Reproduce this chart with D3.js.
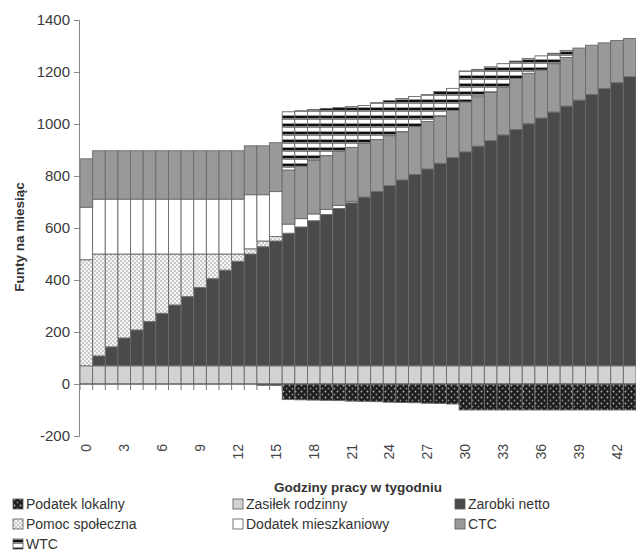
<!DOCTYPE html>
<html>
<head>
<meta charset="utf-8">
<script src="https://cdn.jsdelivr.net/npm/d3@7"></script>
<style>
  body { margin: 0; background: #fff; }
  svg { display: block; font-family: 'Liberation Sans', Arial, sans-serif; }
</style>
</head>
<body>
<svg id="chart"></svg>
<script>
// godziny pracy w tygodniu
const hours = [0, 1, 2, 3, 4, 5, 6, 7, 8, 9, 10, 11, 12, 13, 14, 15, 16, 17, 18, 19, 20, 21,
  22, 23, 24, 25, 26, 27, 28, 29, 30, 31, 32, 33, 34, 35, 36, 37, 38, 39, 40, 41, 42, 43];
const hourTicks = [0, 3, 6, 9, 12, 15, 18, 21, 24, 27, 30, 33, 36, 39, 42];
const yTicks = [-200, 0, 200, 400, 600, 800, 1000, 1200, 1400];

// funty na miesiac, one value per hour
const podatekLokalny = [0, 0, 0, 0, 0, 0, 0, 0, 0, 0, 0, 0, 0, 0, -5, -6, -60, -61, -62, -63, -64, -66,
  -67, -68, -70, -71, -72, -74, -75, -77, -100, -100, -100, -100, -100, -100, -100, -100, -100, -100, -100, -100, -100, -100];
const zasilekRodzinny = [70, 70, 70, 70, 70, 70, 70, 70, 70, 70, 70, 70, 70, 70, 70, 70, 70, 70, 70, 70, 70, 70,
  70, 70, 70, 70, 70, 70, 70, 70, 70, 70, 70, 70, 70, 70, 70, 70, 70, 70, 70, 70, 70, 70];
const zarobkiNetto = [0, 38, 73, 107, 138, 170, 202, 234, 266, 301, 335, 368, 402, 430, 458, 480, 510, 534, 558, 582, 605, 627,
  649, 671, 693, 715, 736, 757, 779, 801, 823, 845, 866, 888, 909, 931, 953, 976, 999, 1022, 1044, 1067, 1089, 1112];
const pomocSpoleczna = [408, 392, 357, 323, 292, 260, 228, 196, 164, 129, 95, 62, 28, 20, 22, 17, 0, 0, 0, 0, 0, 0,
  0, 0, 0, 0, 0, 0, 0, 0, 0, 0, 0, 0, 0, 0, 0, 0, 0, 0, 0, 0, 0, 0];
const dodatekMieszkaniowy = [202, 211, 211, 211, 211, 211, 211, 211, 211, 211, 211, 211, 211, 208, 178, 173, 35, 32, 26, 19, 12, 6,
  0, 0, 0, 0, 0, 0, 0, 0, 0, 0, 0, 0, 0, 0, 0, 0, 0, 0, 0, 0, 0, 0];
const ctc = [186, 186, 186, 186, 186, 186, 186, 186, 186, 186, 186, 186, 186, 188, 188, 188, 208, 202, 206, 207, 208, 207,
  206, 199, 192, 185, 184, 183, 181, 181, 192, 190, 186, 184, 196, 194, 185, 186, 187, 200, 189, 175, 162, 147];
const wtc = [0, 0, 0, 0, 0, 0, 0, 0, 0, 0, 0, 0, 0, 0, 0, 0, 224, 213, 196, 182, 168, 157,
  146, 142, 135, 128, 116, 103, 95, 85, 119, 105, 98, 90, 67, 57, 54, 40, 27, 0, 0, 0, 0, 0];

const seriesKeys = ['podatek', 'zasilek', 'zarobki', 'pomoc', 'dodatek', 'ctc', 'wtc'];
const seriesNames = {
  podatek: 'Podatek lokalny',
  zasilek: 'Zasiłek rodzinny',
  zarobki: 'Zarobki netto',
  pomoc: 'Pomoc społeczna',
  dodatek: 'Dodatek mieszkaniowy',
  ctc: 'CTC',
  wtc: 'WTC'
};

const rows = hours.map((h, i) => ({
  hour: h,
  podatek: podatekLokalny[i],
  zasilek: zasilekRodzinny[i],
  zarobki: zarobkiNetto[i],
  pomoc: pomocSpoleczna[i],
  dodatek: dodatekMieszkaniowy[i],
  ctc: ctc[i],
  wtc: wtc[i]
}));

const width = 636;
const height = 556;
const plot = { left: 80, right: 636, top: 20, bottom: 436 };

const svg = d3.select('#chart')
  .attr('width', width)
  .attr('height', height);

// patterns for the textured series
const defs = svg.append('defs');

const pPomoc = defs.append('pattern')
  .attr('id', 'pat-pomoc')
  .attr('patternUnits', 'userSpaceOnUse')
  .attr('width', 4)
  .attr('height', 4);
pPomoc.append('rect').attr('width', 4).attr('height', 4).attr('fill', '#f6f6f6');
pPomoc.append('circle').attr('cx', 1).attr('cy', 1).attr('r', 0.7).attr('fill', '#7a7a7a');
pPomoc.append('circle').attr('cx', 3).attr('cy', 3).attr('r', 0.7).attr('fill', '#7a7a7a');

const pPodatek = defs.append('pattern')
  .attr('id', 'pat-podatek')
  .attr('patternUnits', 'userSpaceOnUse')
  .attr('width', 6)
  .attr('height', 6);
pPodatek.append('rect').attr('width', 6).attr('height', 6).attr('fill', '#1e1e1e');
pPodatek.append('circle').attr('cx', 1.5).attr('cy', 1.5).attr('r', 0.9).attr('fill', '#b5b5b5');
pPodatek.append('circle').attr('cx', 4.5).attr('cy', 4.5).attr('r', 0.9).attr('fill', '#8a8a8a');

const pWtc = defs.append('pattern')
  .attr('id', 'pat-wtc')
  .attr('patternUnits', 'userSpaceOnUse')
  .attr('width', 4)
  .attr('height', 8);
pWtc.append('rect').attr('width', 4).attr('height', 8).attr('fill', '#fff');
pWtc.append('rect').attr('y', 3).attr('width', 4).attr('height', 1).attr('fill', '#999');
pWtc.append('rect').attr('y', 4).attr('width', 4).attr('height', 2.5).attr('fill', '#111');
pWtc.append('rect').attr('y', 6.5).attr('width', 4).attr('height', 1.5).attr('fill', '#888');

const fills = {
  podatek: 'url(#pat-podatek)',
  zasilek: '#d2d2d2',
  zarobki: '#4a4a4a',
  pomoc: 'url(#pat-pomoc)',
  dodatek: '#ffffff',
  ctc: '#999999',
  wtc: 'url(#pat-wtc)'
};

const xScale = d3.scaleBand()
  .domain(hours)
  .range([plot.left, plot.right])
  .padding(0);

const yScale = d3.scaleLinear()
  .domain([-200, 1400])
  .range([plot.bottom, plot.top]);

const stacked = d3.stack()
  .keys(seriesKeys)
  .offset(d3.stackOffsetDiverging)(rows);

// bars
svg.append('g')
  .selectAll('g')
  .data(stacked)
  .enter().append('g')
  .attr('fill', d => fills[d.key])
  .selectAll('rect')
  .data(d => d.filter(s => s[1] !== s[0]))
  .enter().append('rect')
  .attr('x', d => xScale(d.data.hour))
  .attr('y', d => yScale(d[1]))
  .attr('width', xScale.bandwidth())
  .attr('height', d => yScale(d[0]) - yScale(d[1]))
  .attr('stroke', '#6a6a6a')
  .attr('stroke-width', 0.9);

// zero line with category ticks
svg.append('line')
  .attr('x1', plot.left)
  .attr('x2', plot.right)
  .attr('y1', yScale(0))
  .attr('y2', yScale(0))
  .attr('stroke', '#555')
  .attr('stroke-width', 1);

svg.append('g')
  .selectAll('line')
  .data(hours)
  .enter().append('line')
  .attr('x1', d => xScale(d))
  .attr('x2', d => xScale(d))
  .attr('y1', yScale(0))
  .attr('y2', yScale(0) + 6)
  .attr('stroke', '#777');

// y axis
const yAxis = d3.axisLeft(yScale)
  .tickValues(yTicks)
  .tickFormat(d => String(d))
  .tickSize(5)
  .tickPadding(4);

const yAxisG = svg.append('g')
  .attr('transform', `translate(${plot.left - 1},0)`)
  .call(yAxis);
yAxisG.select('.domain').attr('stroke', '#888');
yAxisG.selectAll('.tick line').attr('stroke', '#888');
yAxisG.selectAll('.tick text')
  .attr('font-size', 15)
  .attr('font-family', "'Liberation Sans', Arial, sans-serif")
  .attr('fill', '#3a3a3a');

// x labels, rotated
svg.append('g')
  .selectAll('text')
  .data(hourTicks)
  .enter().append('text')
  .attr('transform', d => `translate(${xScale(d) + xScale.bandwidth() / 2},444) rotate(-90)`)
  .attr('dy', '0.35em')
  .attr('text-anchor', 'end')
  .attr('font-size', 14)
  .attr('fill', '#444')
  .text(d => d);

// axis titles
svg.append('text')
  .attr('x', (plot.left + plot.right) / 2)
  .attr('y', 492)
  .attr('text-anchor', 'middle')
  .attr('font-size', 13.5)
  .attr('font-weight', 'bold')
  .attr('fill', '#333')
  .text('Godziny pracy w tygodniu');

svg.append('text')
  .attr('transform', 'translate(24,237) rotate(-90)')
  .attr('text-anchor', 'middle')
  .attr('font-size', 13.5)
  .attr('font-weight', 'bold')
  .attr('fill', '#333')
  .text('Funty na miesiąc');

// legend
const legendOrder = ['podatek', 'zasilek', 'zarobki', 'pomoc', 'dodatek', 'ctc', 'wtc'];
const legendCols = [13, 233, 455];

const legend = svg.append('g')
  .selectAll('g')
  .data(legendOrder)
  .enter().append('g')
  .attr('transform', (d, i) => `translate(${legendCols[i % 3]},${504 + Math.floor(i / 3) * 20})`);

legend.append('rect')
  .attr('x', 0)
  .attr('y', -5)
  .attr('width', 10)
  .attr('height', 10)
  .attr('fill', d => fills[d])
  .attr('stroke', '#555')
  .attr('stroke-width', 0.8);

legend.append('text')
  .attr('x', 13)
  .attr('y', 0)
  .attr('dy', '0.35em')
  .attr('font-size', 14)
  .attr('fill', '#333')
  .text(d => seriesNames[d]);
</script>
</body>
</html>
